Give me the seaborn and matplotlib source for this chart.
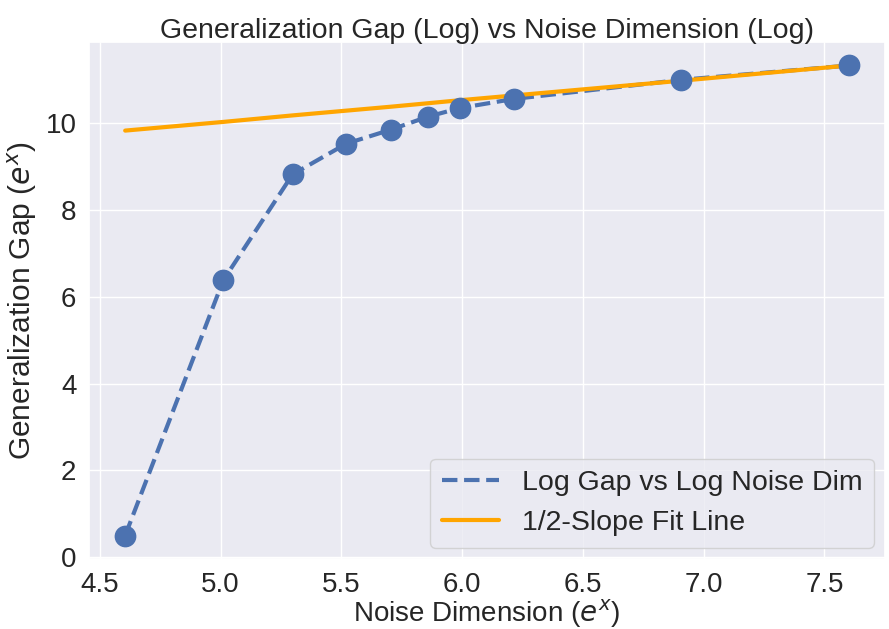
import seaborn as sns
import matplotlib.pyplot as plt
import pandas as pd

# log noise dimension and log generalization gap
log_noise_dim = [4.605, 5.011, 5.298, 5.521, 5.704, 5.858, 5.991, 6.215, 6.908, 7.601]
log_gap = [0.50, 6.38, 8.82, 9.53, 9.85, 10.15, 10.35, 10.56, 11.00, 11.33]
fit_line = [9.83, 10.03, 10.18, 10.29, 10.38, 10.46, 10.53, 10.64, 10.98, 11.33]

df = pd.DataFrame({'x': log_noise_dim, 'gap': log_gap, 'fit': fit_line})

sns.set_theme(style="darkgrid")
plt.rcParams['font.family'] = ['Liberation Sans', 'DejaVu Sans']

fig, ax = plt.subplots(figsize=(8.89, 6.29), dpi=100)
fig.subplots_adjust(left=89/889, right=885/889, bottom=1-559/629, top=1-42/629)

blue = '#4c72b0'
sns.lineplot(data=df, x='x', y='gap', ax=ax, color=blue, linestyle='--',
             linewidth=3, label='Log Gap vs Log Noise Dim')
sns.scatterplot(data=df, x='x', y='gap', ax=ax, color=blue, s=210,
                edgecolor=blue, zorder=3, legend=False)
sns.lineplot(data=df, x='x', y='fit', ax=ax, color='orange', linewidth=3,
             label='1/2-Slope Fit Line')

ax.set_title('Generalization Gap (Log) vs Noise Dimension (Log)', fontsize=20.5, pad=3)
ax.set_xlabel('Noise Dimension ($e^x$)', fontsize=20, labelpad=0)
ax.set_ylabel('Generalization Gap ($e^x$)', fontsize=21.5, labelpad=5)
ax.tick_params(axis='both', labelsize=20, pad=3)
ax.legend(loc='lower right', fontsize=20.5, borderaxespad=0.4)

fig.savefig('out.png', dpi=100)
